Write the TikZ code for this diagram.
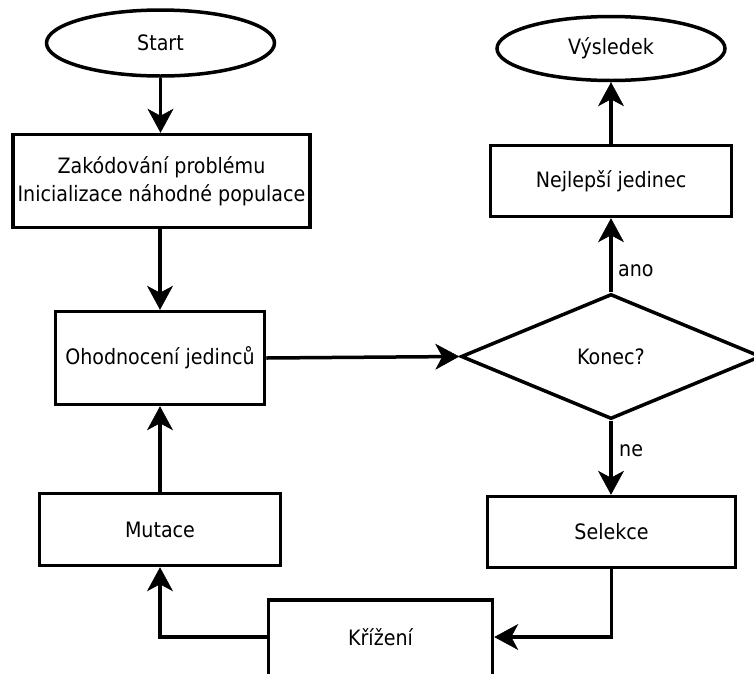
\documentclass[tikz,border=0pt]{standalone}
\usepackage{fontspec}
\setmainfont{DejaVu Sans Condensed}
\usetikzlibrary{arrows.meta,shapes.geometric,calc}
\begin{document}
\begin{tikzpicture}[x=1pt,y=-1pt,
  every node/.style={font=\fontsize{21.2}{28}\selectfont, inner sep=0pt},
  term/.style={draw, line width=3.5pt, ellipse, minimum width=228pt, minimum height=66pt},
  box/.style={draw, line width=3.5pt, rectangle, align=center},
  dec/.style={draw, line width=3.5pt, diamond, minimum width=300pt, minimum height=125pt, aspect=2.38},
  conn/.style={line width=3.5pt, -{Stealth[length=24pt, width=26pt, inset=7pt, line width=0.5pt]}},
  lbl/.style={anchor=base west}
]
\useasboundingbox (0,0) rectangle (754,673);
\node[term] (start) at (160.5,43) {Start};
\node[box, minimum width=297pt, minimum height=93pt] (init) at (161.5,181) {Zakódování problému\\Inicializace náhodné populace};
\node[box, minimum width=209pt, minimum height=93pt] (eval) at (160,358) {Ohodnocení jedinců};
\node[box, minimum width=241pt, minimum height=72pt] (mut) at (160,529.5) {Mutace};
\node[box, minimum width=224pt, minimum height=84pt, text depth=10pt] (cross) at (380.5,642) {Křížení};
\node[box, minimum width=248pt, minimum height=71pt] (sel) at (611.5,532) {Selekce};
\node[dec] (end) at (611,356.5) {Konec?};
\node[box, minimum width=241pt, minimum height=71pt] (best) at (611,181) {Nejlepší jedinec};
\node[term, minimum height=64pt] (res) at (611,48.5) {Výsledek};
\node[lbl] (anolbl) at (618,276) {ano};
\node[lbl] (nelbl) at (619,456) {ne};

\draw[conn] (start.south) -- (start.south |- init.north);
\draw[conn] (init.south -| eval.north) -- (eval.north);
\draw[conn] (eval.east) -- (end.west);
\draw[conn] (end.north) -- (end.north |- best.south);
\draw[conn] (best.north -| res.south) -- (res.south);
\draw[conn] (end.south) -- (end.south |- sel.north);
\draw[conn] (sel.south) |- ([yshift=5pt]cross.east);
\draw[conn] ([yshift=5pt]cross.west) -| (mut.south);
\draw[conn] (mut.north) -- (mut.north |- eval.south);
\end{tikzpicture}
\end{document}
